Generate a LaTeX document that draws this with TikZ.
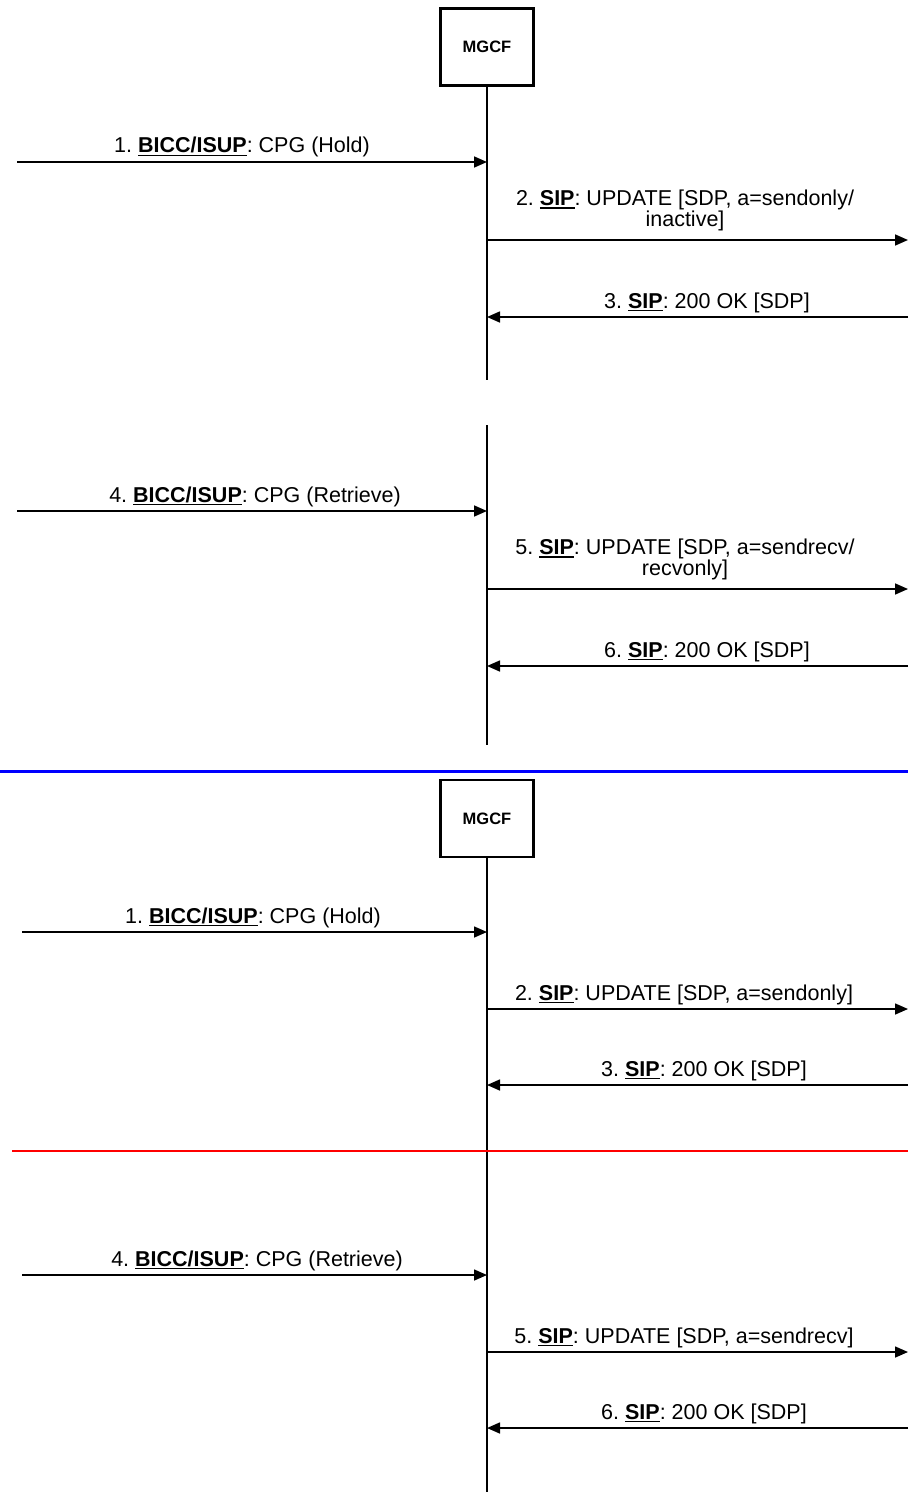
\documentclass[tikz,border=0pt]{standalone}
\usepackage{fontspec}
\setmainfont{Liberation Sans}
\usetikzlibrary{arrows.meta}
\newsavebox{\ulbbox}
\newcommand{\ulb}[1]{\sbox{\ulbbox}{\textbf{#1}}\rlap{\rule[-3.2bp]{\wd\ulbbox}{1.6bp}}\usebox{\ulbbox}}
\tikzset{
  msg/.style={line width=1.6bp, -{Triangle[length=13bp,width=11bp]}},
  life/.style={line width=1.6bp},
  ent/.style={draw, line width=2.2bp, minimum width=93bp, minimum height=77bp, inner sep=0pt,
              font=\fontsize{16.5bp}{18bp}\selectfont\bfseries},
  lbl/.style={font=\fontsize{21.5bp}{20bp}\selectfont\frenchspacing, anchor=base, inner sep=0pt},
  lbl2/.style={font=\fontsize{21.5bp}{19bp}\selectfont\frenchspacing, anchor=south, align=center, inner sep=0pt},
}
\begin{document}
\begin{tikzpicture}[x=1bp,y=-1bp]
\useasboundingbox (0,0) rectangle (908,1497);
% ---------- upper part ----------
\node[ent] (m1) at (487,47) {MGCF};
\coordinate (l1e) at (487,380);
\draw[life] (m1.south) -- (l1e);
\coordinate (l2s) at (487,425);
\coordinate (l2e) at (487,745);
\draw[life] (l2s) -- (l2e);

\coordinate (a1s) at (17,162);  \coordinate (a1e) at (487,162);
\draw[msg] (a1s) -- (a1e);
\node[lbl] (t1) at (242,153) {1. \ulb{BICC/ISUP}: CPG (Hold)};

\coordinate (a2s) at (487,240); \coordinate (a2e) at (908,240);
\draw[msg] (a2s) -- (a2e);
\node[lbl2] (t2) at (685,231) {2. \ulb{SIP}: UPDATE [SDP, a=sendonly/\\inactive]};

\coordinate (a3s) at (908,317); \coordinate (a3e) at (487,317);
\draw[msg] (a3s) -- (a3e);
\node[lbl] (t3) at (707,308) {3. \ulb{SIP}: 200 OK [SDP]};

\coordinate (a4s) at (17,511);  \coordinate (a4e) at (487,511);
\draw[msg] (a4s) -- (a4e);
\node[lbl] (t4) at (255,502) {4. \ulb{BICC/ISUP}: CPG (Retrieve)};

\coordinate (a5s) at (487,589); \coordinate (a5e) at (908,589);
\draw[msg] (a5s) -- (a5e);
\node[lbl2] (t5) at (685,580) {5. \ulb{SIP}: UPDATE [SDP, a=sendrecv/\\recvonly]};

\coordinate (a6s) at (908,666); \coordinate (a6e) at (487,666);
\draw[msg] (a6s) -- (a6e);
\node[lbl] (t6) at (707,657) {6. \ulb{SIP}: 200 OK [SDP]};

% ---------- separator ----------
\coordinate (bl1) at (0,771); \coordinate (bl2) at (908,771);
\draw[blue, line width=3bp] (bl1) -- (bl2);

% ---------- lower part ----------
\node[ent] (m2) at (487,818.5) {MGCF};
\coordinate (l3e) at (487,1492);
\draw[life] (m2.south) -- (l3e);

\coordinate (b1s) at (22,932);  \coordinate (b1e) at (487,932);
\draw[msg] (b1s) -- (b1e);
\node[lbl] (u1) at (253,923) {1. \ulb{BICC/ISUP}: CPG (Hold)};

\coordinate (b2s) at (487,1009); \coordinate (b2e) at (908,1009);
\draw[msg] (b2s) -- (b2e);
\node[lbl] (u2) at (684,1000) {2. \ulb{SIP}: UPDATE [SDP, a=sendonly]};

\coordinate (b3s) at (908,1085); \coordinate (b3e) at (487,1085);
\draw[msg] (b3s) -- (b3e);
\node[lbl] (u3) at (704,1076) {3. \ulb{SIP}: 200 OK [SDP]};

\coordinate (rl1) at (12,1151); \coordinate (rl2) at (908,1151);
\draw[red, line width=2bp] (rl1) -- (rl2);

\coordinate (b4s) at (22,1275);  \coordinate (b4e) at (487,1275);
\draw[msg] (b4s) -- (b4e);
\node[lbl] (u4) at (257,1266) {4. \ulb{BICC/ISUP}: CPG (Retrieve)};

\coordinate (b5s) at (487,1352); \coordinate (b5e) at (908,1352);
\draw[msg] (b5s) -- (b5e);
\node[lbl] (u5) at (684,1343) {5. \ulb{SIP}: UPDATE [SDP, a=sendrecv]};

\coordinate (b6s) at (908,1428); \coordinate (b6e) at (487,1428);
\draw[msg] (b6s) -- (b6e);
\node[lbl] (u6) at (704,1419) {6. \ulb{SIP}: 200 OK [SDP]};
\end{tikzpicture}
\end{document}
